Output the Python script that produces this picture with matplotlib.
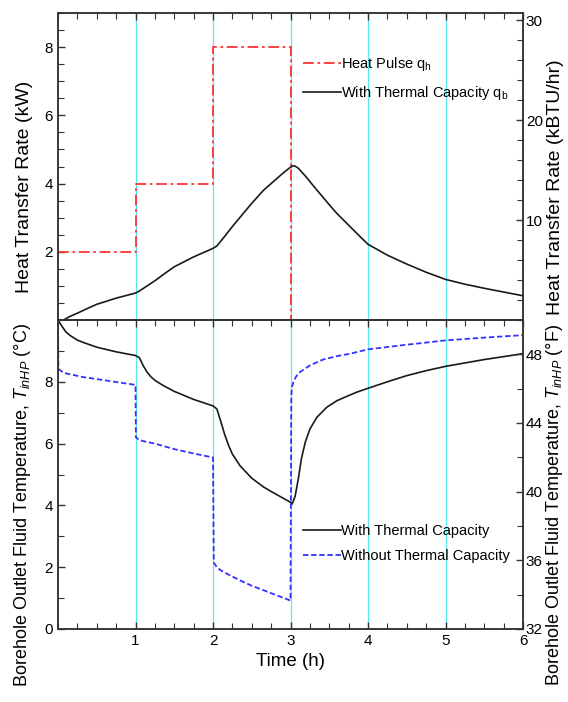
import numpy as np
import matplotlib
matplotlib.use("Agg")
import matplotlib.pyplot as plt
from matplotlib.ticker import MultipleLocator, FixedLocator

plt.rcParams['font.family'] = ['Liberation Sans', 'DejaVu Sans']
plt.rcParams['mathtext.fontset'] = 'custom'
plt.rcParams['mathtext.rm'] = 'Liberation Sans'
plt.rcParams['mathtext.it'] = 'Liberation Sans:italic'

# ---- heat pulse applied to the borehole (kW) ----
pulse_hours = [0, 1, 2, 3]
pulse_kw = [2, 4, 8, 0]

# ---- borehole heat transfer rate with thermal capacity (kW) ----
qb_hours = [0.00, 0.07, 0.15, 0.25, 0.40, 0.50, 0.75, 1.00, 1.05, 1.15,
            1.25, 1.40, 1.50, 1.75, 2.00, 2.05, 2.15, 2.25, 2.40, 2.50,
            2.65, 2.75, 2.90, 3.00, 3.03, 3.06, 3.10, 3.20, 3.30, 3.40,
            3.50, 3.60, 3.75, 3.90, 4.00, 4.25, 4.50, 4.75, 5.00, 5.25,
            5.50, 5.75, 6.00]
qb_kw = [0.00, 0.00, 0.10, 0.20, 0.36, 0.46, 0.64, 0.79, 0.85, 1.00,
         1.15, 1.40, 1.56, 1.85, 2.10, 2.17, 2.45, 2.74, 3.15, 3.42,
         3.80, 4.00, 4.30, 4.48, 4.52, 4.51, 4.45, 4.20, 3.92, 3.65,
         3.38, 3.12, 2.78, 2.44, 2.22, 1.90, 1.64, 1.40, 1.19, 1.05,
         0.93, 0.82, 0.71]

# ---- outlet fluid temperature, with thermal capacity (°C) ----
tc_hours = [0.00, 0.05, 0.10, 0.155, 0.25, 0.33, 0.50, 0.75, 1.00, 1.05,
            1.10, 1.15, 1.20, 1.25, 1.35, 1.50, 1.75, 2.00, 2.05, 2.10,
            2.15, 2.20, 2.25, 2.35, 2.50, 2.65, 2.75, 2.90, 3.00, 3.02,
            3.06, 3.10, 3.14, 3.19, 3.25, 3.34, 3.47, 3.60, 3.70, 3.85,
            4.00, 4.25, 4.50, 4.75, 5.00, 5.50, 6.00]
tc_degc = [10.00, 9.80, 9.62, 9.50, 9.35, 9.27, 9.12, 8.97, 8.85, 8.78,
           8.52, 8.31, 8.16, 8.05, 7.89, 7.69, 7.43, 7.22, 7.12, 6.72,
           6.30, 5.95, 5.66, 5.28, 4.88, 4.60, 4.45, 4.24, 4.10, 4.04,
           4.30, 4.85, 5.50, 6.04, 6.47, 6.85, 7.18, 7.39, 7.50, 7.66,
           7.79, 8.00, 8.20, 8.36, 8.50, 8.72, 8.91]

# ---- outlet fluid temperature, without thermal capacity (°C) ----
nc_hours = [0.000, 0.005, 0.07, 0.33, 0.76, 1.00, 1.005, 1.05, 1.10, 1.25,
            1.50, 1.75, 2.00, 2.01, 2.05, 2.10, 2.20, 2.35, 2.50, 2.75,
            3.00, 3.01, 3.02, 3.05, 3.08, 3.12, 3.25, 3.42, 3.60, 3.77,
            4.00, 4.50, 5.00, 5.50, 6.00]
nc_degc = [10.00, 8.42, 8.29, 8.15, 7.99, 7.90, 6.20, 6.12, 6.08, 6.00,
           5.82, 5.68, 5.55, 2.15, 2.00, 1.90, 1.76, 1.57, 1.40, 1.16,
           0.92, 7.56, 7.85, 8.07, 8.20, 8.31, 8.53, 8.72, 8.83, 8.91,
           9.05, 9.20, 9.34, 9.43, 9.51]

hour_lines = [1, 2, 3, 4, 5]
KW_TO_KBTUH = 3.412

W, H = 568, 702
fig = plt.figure(figsize=(W / 100, H / 100), dpi=100)
left, right = 58 / W, 523 / W
y_top, y_mid, y_bot = 13 / H, 320 / H, 629 / H
ax1 = fig.add_axes([left, 1 - y_mid, right - left, y_mid - y_top])
ax2 = fig.add_axes([left, 1 - y_bot, right - left, y_bot - y_mid])

spine_c = '#333333'
tick_fs = 11
leg_fs = 10.5

for ax in (ax1, ax2):
    ax.set_xlim(0, 6)
    for h in hour_lines:
        ax.axvline(h, color='#5ce8f0', lw=0.9, zorder=0)
    for s in ax.spines.values():
        s.set_color(spine_c)
        s.set_linewidth(1.1)
    ax.xaxis.set_minor_locator(MultipleLocator(0.25))
    ax.xaxis.set_major_locator(FixedLocator([1, 2, 3, 4, 5, 6]))


def style_right(axr):
    axr.tick_params(which='both', direction='in', labelsize=tick_fs,
                    colors=spine_c, labelcolor='black', pad=2)
    axr.tick_params(which='major', length=5, width=1)
    axr.tick_params(which='minor', length=4, width=0.8)
    for s in axr.spines.values():
        s.set_color(spine_c)
        s.set_linewidth(1.1)


# ---- upper panel: heat transfer rate ----
ax1.plot(pulse_hours, pulse_kw, drawstyle='steps-post', color='#ff3333',
         lw=1.3, dashes=(6, 2, 1.5, 2), label='Heat Pulse q$_\\mathregular{h}$')
ax1.plot(qb_hours, qb_kw, color='#1a1a1a', lw=1.2,
         label='With Thermal Capacity q$_\\mathregular{b}$')
ax1.set_ylim(0, 9)
ax1.yaxis.set_major_locator(FixedLocator([2, 4, 6, 8]))
ax1.yaxis.set_minor_locator(MultipleLocator(0.5))
ax1.tick_params(axis='x', which='both', direction='in', top=True, bottom=False,
                labelbottom=False, colors=spine_c)
ax1.tick_params(axis='y', which='both', direction='in', left=True, right=False,
                labelsize=tick_fs, colors=spine_c, labelcolor='black')
ax1.tick_params(which='major', length=5, width=1)
ax1.tick_params(which='minor', length=4, width=0.8)
ax1.set_ylabel('Heat Transfer Rate (kW)', fontsize=14)
ax1.yaxis.set_label_coords(-0.054, 0.433)
ax1.legend(loc='center left', bbox_to_anchor=(0.527, 0.7855), frameon=False,
           fontsize=leg_fs, handlelength=2.6, handletextpad=0.0,
           borderpad=0, borderaxespad=0, labelspacing=0.75)

ax1r = ax1.twinx()
ax1r.set_ylim(0, 9 * KW_TO_KBTUH)
ax1r.yaxis.set_major_locator(FixedLocator([10, 20, 30]))
ax1r.yaxis.set_minor_locator(MultipleLocator(2))
style_right(ax1r)
ax1r.set_ylabel('Heat Transfer Rate (kBTU/hr)', fontsize=14)
ax1r.yaxis.set_label_coords(1.052, 0.433)

# ---- lower panel: outlet fluid temperature ----
ax2.plot(tc_hours, tc_degc, color='#1a1a1a', lw=1.2, label='With Thermal Capacity')
ax2.plot(nc_hours, nc_degc, color='#3333ff', lw=1.3, dashes=(3, 1.5),
         label='Without Thermal Capacity')
ax2.set_ylim(0, 10)
ax2.yaxis.set_major_locator(FixedLocator([0, 2, 4, 6, 8]))
ax2.yaxis.set_minor_locator(MultipleLocator(1))
ax2.tick_params(axis='x', which='both', direction='in', top=True, bottom=True,
                labelsize=tick_fs, colors=spine_c, labelcolor='black')
ax2.tick_params(axis='y', which='both', direction='in', left=True, right=False,
                labelsize=tick_fs, colors=spine_c, labelcolor='black')
ax2.tick_params(which='major', length=5, width=1)
ax2.tick_params(which='minor', length=4, width=0.8)
ax2.set_xlabel('Time (h)', fontsize=13.5, labelpad=4)
ax2.set_ylabel('Borehole Outlet Fluid Temperature, $T_{inHP}$ (°C)', fontsize=13)
ax2.yaxis.set_label_coords(-0.054, 0.40)
ax2.legend(loc='center left', bbox_to_anchor=(0.527, 0.2765), frameon=False,
           fontsize=leg_fs, handlelength=2.6, handletextpad=0.0,
           borderpad=0, borderaxespad=0, labelspacing=0.75)

ax2r = ax2.twinx()
ax2r.set_ylim(32, 50)
ax2r.yaxis.set_major_locator(FixedLocator([32, 36, 40, 44, 48]))
ax2r.yaxis.set_minor_locator(MultipleLocator(2))
style_right(ax2r)
ax2r.set_ylabel('Borehole Outlet Fluid Temperature, $T_{inHP}$ (°F)', fontsize=13)
ax2r.yaxis.set_label_coords(1.046, 0.40)

fig.savefig('out.png', dpi=100)
